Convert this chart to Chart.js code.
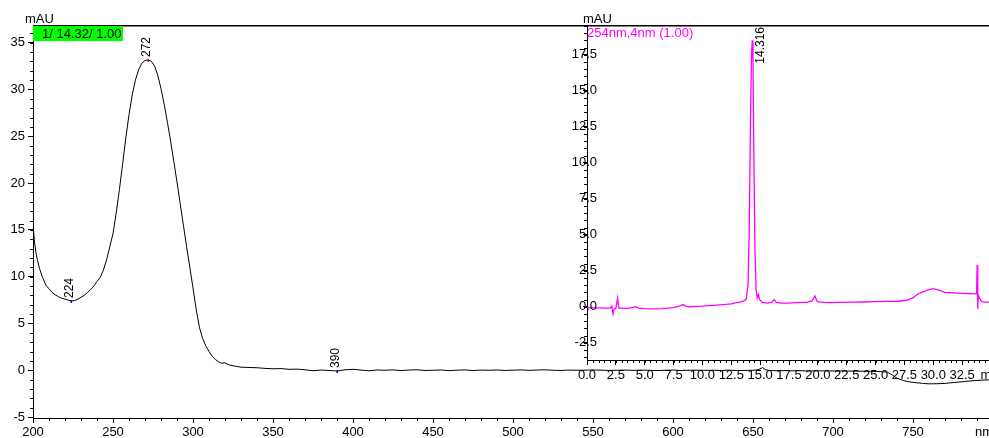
<!DOCTYPE html>
<html>
<head>
<meta charset="utf-8">
<script src="https://cdn.jsdelivr.net/npm/chart.js@4.4.1/dist/chart.umd.min.js"></script>
<style>
  html, body { margin: 0; padding: 0; background: #fff; overflow: hidden; }
  #wrap { position: relative; width: 989px; height: 438px; overflow: hidden; }
  #wrap canvas { position: absolute; left: 0; top: 0; }
</style>
</head>
<body>
<div id="wrap">
  <canvas id="specChart" width="1000" height="438"></canvas>
  <canvas id="lcChart" width="1010" height="438"></canvas>
</div>
<script>
// UV spectrum of the peak (wavelength nm / mAU)
const waveNm = [200, 201, 202, 204, 206, 208, 210, 212, 214, 216, 218, 220, 222, 224, 226, 228, 230, 232, 234, 236, 238, 240, 242, 244, 246, 248, 250, 252, 254, 256, 258, 260, 262, 264, 266, 268, 270, 272, 274, 276, 278, 280, 282, 284, 286, 288, 290, 292, 294, 296, 298, 300, 302, 304, 306, 308, 310, 312, 314, 316, 318, 320, 322, 325, 330, 335, 340, 345, 350, 355, 360, 365, 370, 375, 380, 385, 390, 395, 400, 405, 410, 415, 420, 425, 430, 435, 440, 445, 450, 455, 460, 465, 470, 475, 480, 485, 490, 495, 500, 505, 510, 515, 520, 525, 530, 535, 540, 545, 550, 555, 560, 565, 570, 575, 580, 585, 590, 595, 600, 605, 610, 615, 620, 625, 630, 635, 640, 645, 650, 653, 656, 658, 660, 665, 670, 675, 680, 685, 690, 695, 700, 705, 710, 715, 720, 725, 730, 734, 737, 740, 744, 748, 752, 756, 760, 765, 770, 775, 780, 785, 790, 795, 800];
const absMAU = [15.6, 13.6, 12.4, 10.9, 9.9, 9.1, 8.7, 8.3, 8.05, 7.85, 7.7, 7.6, 7.5, 7.4, 7.45, 7.6, 7.8, 8.0, 8.3, 8.6, 9.0, 9.5, 9.9, 10.7, 11.8, 13.2, 14.6, 16.8, 19.3, 22.0, 24.8, 27.3, 29.4, 31.0, 32.1, 32.8, 33.1, 33.15, 33.0, 32.5, 31.5, 30.1, 28.4, 26.5, 24.5, 22.3, 20.1, 17.8, 15.5, 13.2, 11.0, 8.8, 6.5, 4.6, 3.4, 2.6, 2.0, 1.5, 1.15, 0.9, 0.75, 0.8, 0.6, 0.48, 0.33, 0.3, 0.27, 0.2, 0.16, 0.18, 0.1, 0.12, 0.05, -0.05, 0.02, -0.02, -0.08, 0.05, 0.1, 0.02, -0.06, 0.03, 0.0, 0.04, -0.03, 0.02, 0.05, -0.02, 0.0, 0.03, -0.04, 0.01, 0.04, -0.03, 0.02, 0.0, 0.03, -0.02, 0.01, 0.04, -0.01, 0.02, 0.05, 0.0, -0.02, 0.02, 0.0, 0.01, 0.03, 0.01, -0.02, 0.0, 0.02, -0.01, 0.01, 0.0, -0.03, 0.0, 0.02, -0.02, 0.0, 0.01, -0.01, 0.0, -0.02, 0.01, -0.03, -0.02, 0.0, 0.05, 0.28, 0.05, -0.02, -0.05, -0.04, -0.06, -0.05, -0.08, -0.06, -0.07, -0.08, -0.07, -0.09, -0.1, -0.1, -0.12, -0.15, -0.2, -0.5, -0.85, -1.1, -1.25, -1.33, -1.4, -1.45, -1.44, -1.4, -1.32, -1.24, -1.15, -1.09, -1.04, -1.0];
const specXTicks = [200, 250, 300, 350, 400, 450, 500, 550, 600, 650, 700, 750, 800];
const specYTicks = [-5, 0, 5, 10, 15, 20, 25, 30, 35];
const specPeaks = [224, 272, 390];
const specPeakMarks = ['#0000ff', '#ff0000', '#0000ff'];

// 254 nm chromatogram (min / mAU)
const lcTime = [0, 0.5, 1.0, 1.5, 2.0, 2.15, 2.25, 2.35, 2.5, 2.65, 2.75, 3.0, 3.5, 4.0, 4.2, 4.5, 5.0, 5.5, 6.0, 6.5, 7.0, 7.5, 8.0, 8.3, 8.6, 9.0, 9.5, 10.0, 10.5, 11.0, 11.5, 12.0, 12.5, 13.0, 13.3, 13.6, 13.8, 13.95, 14.05, 14.15, 14.25, 14.316, 14.38, 14.45, 14.55, 14.65, 14.75, 14.85, 14.95, 15.2, 15.6, 16.0, 16.2, 16.4, 16.8, 17.5, 18.0, 18.5, 19.0, 19.5, 19.75, 19.95, 20.5, 21.0, 22.0, 23.0, 24.0, 25.0, 26.0, 27.0, 27.7, 28.3, 28.6, 29.0, 29.5, 30.0, 30.5, 31.0, 31.5, 32.0, 32.5, 33.0, 33.5, 33.75, 33.8, 33.85, 33.9, 34.0, 34.2, 34.5, 35.0];
const lcMAU = [-0.05, -0.07, -0.08, -0.1, -0.1, 0.05, -0.5, -0.15, -0.1, 0.6, -0.1, -0.1, -0.12, -0.05, 0.0, -0.1, -0.13, -0.15, -0.15, -0.13, -0.1, -0.06, 0.05, 0.15, 0.02, 0.0, 0.02, 0.04, 0.07, 0.1, 0.13, 0.16, 0.2, 0.28, 0.33, 0.4, 0.55, 1.5, 5.0, 12.0, 17.5, 18.5, 17.0, 11.0, 4.0, 1.2, 0.6, 0.85, 0.5, 0.3, 0.25, 0.3, 0.5, 0.3, 0.25, 0.25, 0.28, 0.3, 0.3, 0.4, 0.75, 0.35, 0.3, 0.28, 0.3, 0.32, 0.33, 0.35, 0.37, 0.38, 0.45, 0.65, 0.85, 1.0, 1.15, 1.25, 1.15, 1.0, 0.97, 0.95, 0.93, 0.92, 0.9, 0.9, 2.9, -0.15, 0.8, 0.6, 0.35, 0.32, 0.32];
const lcXTicks = [0, 2.5, 5, 7.5, 10, 12.5, 15, 17.5, 20, 22.5, 25, 27.5, 30, 32.5, 35];
const lcYTicks = [-2.5, 0, 2.5, 5, 7.5, 10, 12.5, 15, 17.5];
const lcPeaks = [14.316];

const FONT = '"Liberation Sans", Arial, sans-serif';
Chart.defaults.font.family = FONT;
Chart.defaults.font.size = 13;
Chart.defaults.color = '#000';

// short unlabeled ticks between the major ones
function drawMinorTicks(chart, id, step, len) {
  const s = chart.scales[id];
  const ctx = chart.ctx;
  ctx.save();
  ctx.strokeStyle = '#000';
  ctx.lineWidth = 1;
  ctx.beginPath();
  const first = Math.ceil(s.min / step);
  const last = Math.floor(s.max / step);
  for (let i = first; i <= last; i++) {
    const v = i * step;
    if (s.isHorizontal()) {
      const px = Math.round(s.getPixelForValue(v)) + 0.5;
      ctx.moveTo(px, s.top);
      ctx.lineTo(px, s.top + len);
    } else {
      const py = Math.round(s.getPixelForValue(v)) + 0.5;
      ctx.moveTo(s.right - len, py);
      ctx.lineTo(s.right, py);
    }
  }
  ctx.stroke();
  ctx.restore();
}

function rotatedText(ctx, text, x, y, align) {
  ctx.save();
  ctx.translate(x, y);
  ctx.rotate(-Math.PI / 2);
  ctx.textAlign = align;
  ctx.textBaseline = 'alphabetic';
  ctx.fillText(text, 0, 0);
  ctx.restore();
}

const specDecor = {
  id: 'specDecor',
  afterDraw(chart) {
    const { ctx, chartArea, scales: { x, y } } = chart;
    drawMinorTicks(chart, 'x', 10, 3);
    drawMinorTicks(chart, 'y', 1, 3);

    // frame line along the top
    ctx.save();
    ctx.strokeStyle = '#000';
    ctx.lineWidth = 1.5;
    ctx.beginPath();
    ctx.moveTo(chartArea.left, chartArea.top - 0.25);
    ctx.lineTo(chart.width, chartArea.top - 0.25);
    ctx.stroke();

    ctx.font = '13px ' + FONT;
    ctx.fillStyle = '#000';
    ctx.textBaseline = 'middle';
    ctx.textAlign = 'left';
    ctx.fillText('mAU', 25, 19.5);
    ctx.textAlign = 'right';
    ctx.fillText('nm', x.getPixelForValue(800), 432);

    // peak info box
    ctx.fillStyle = '#00ff00';
    ctx.fillRect(chartArea.left, chartArea.top, 90, 15);
    ctx.fillStyle = '#000';
    ctx.textAlign = 'left';
    ctx.fillText('1/ 14.32/ 1.00', 42, chartArea.top + 8);

    // picked wavelengths
    ctx.font = '12px ' + FONT;
    specPeaks.forEach((nm, i) => {
      const v = absMAU[waveNm.indexOf(nm)];
      const px = x.getPixelForValue(nm);
      const py = y.getPixelForValue(v);
      ctx.fillStyle = specPeakMarks[i];
      ctx.fillRect(Math.round(px) - 0.5, Math.round(py) - 1, 1.5, 3);
      ctx.fillStyle = '#000';
      rotatedText(ctx, String(nm), px + 2, py - 3, 'left');
    });
    ctx.restore();
  }
};

const lcDecor = {
  id: 'lcDecor',
  afterDraw(chart) {
    const { ctx, chartArea, scales: { x, y } } = chart;
    drawMinorTicks(chart, 'x', 0.5, 3);
    drawMinorTicks(chart, 'y', 0.5, 3);

    ctx.save();
    ctx.font = '13px ' + FONT;
    ctx.textBaseline = 'middle';
    ctx.fillStyle = '#000';

    // y labels sit across the axis line, right edge past it
    ctx.textAlign = 'right';
    lcYTicks.forEach(v => {
      ctx.fillText(v.toFixed(1), y.right + 10, y.getPixelForValue(v));
    });

    ctx.textAlign = 'left';
    ctx.fillText('mAU', chartArea.left - 4, 19.5);
    ctx.fillStyle = '#ff00ff';
    ctx.fillText('254nm,4nm (1.00)', chartArea.left, chartArea.top + 7);

    ctx.font = '12px ' + FONT;
    ctx.fillStyle = '#000';
    lcPeaks.forEach(t => {
      const px = x.getPixelForValue(t);
      rotatedText(ctx, t.toFixed(3), px + 12, chartArea.top + 1, 'right');
    });
    ctx.restore();
  }
};

new Chart(document.getElementById('specChart'), {
  type: 'line',
  data: {
    datasets: [{
      data: waveNm.map((w, i) => ({ x: w, y: absMAU[i] })),
      borderColor: '#000',
      borderWidth: 1,
      pointRadius: 0,
      tension: 0
    }]
  },
  options: {
    responsive: false,
    animation: false,
    devicePixelRatio: 1,
    layout: { padding: { top: 26, right: 7, left: 0, bottom: 0 } },
    plugins: { legend: { display: false }, tooltip: { enabled: false } },
    scales: {
      x: {
        type: 'linear',
        min: 200,
        max: 800,
        afterFit: s => { s.height = 20; },
        afterBuildTicks: s => { s.ticks = specXTicks.map(v => ({ value: v })); },
        ticks: { autoSkip: false, maxRotation: 0, padding: 2, callback: v => (v === 800 ? '' : v) },
        grid: { drawOnChartArea: false, tickLength: 5, color: '#000' },
        border: { color: '#000' }
      },
      y: {
        type: 'linear',
        min: -5.1,
        max: 36.78,
        afterFit: s => { s.width = 33; },
        afterBuildTicks: s => { s.ticks = specYTicks.map(v => ({ value: v })); },
        ticks: { autoSkip: false, padding: 3 },
        grid: { drawOnChartArea: false, tickLength: 5, color: '#000' },
        border: { color: '#000' }
      }
    }
  },
  plugins: [specDecor]
});

new Chart(document.getElementById('lcChart'), {
  type: 'line',
  data: {
    datasets: [{
      data: lcTime.map((t, i) => ({ x: t, y: lcMAU[i] })),
      borderColor: '#ff00ff',
      borderWidth: 1.3,
      pointRadius: 0,
      tension: 0
    }]
  },
  options: {
    responsive: false,
    animation: false,
    devicePixelRatio: 1,
    layout: { padding: { top: 26, right: 19, left: 547, bottom: 48 } },
    plugins: { legend: { display: false }, tooltip: { enabled: false } },
    scales: {
      x: {
        type: 'linear',
        min: 0,
        max: 35,
        afterFit: s => { s.height = 30; },
        afterBuildTicks: s => { s.ticks = lcXTicks.map(v => ({ value: v })); },
        ticks: { autoSkip: false, maxRotation: 0, padding: 3, callback: v => (v === 35 ? 'min' : v.toFixed(1)) },
        grid: { drawOnChartArea: false, tickLength: 5, color: '#000' },
        border: { color: '#000' }
      },
      y: {
        type: 'linear',
        min: -3.7,
        max: 19.5,
        afterFit: s => { s.width = 40; },
        afterBuildTicks: s => { s.ticks = lcYTicks.map(v => ({ value: v })); },
        ticks: { display: false },
        grid: { drawOnChartArea: false, tickLength: 4, color: '#000' },
        border: { color: '#000' }
      }
    }
  },
  plugins: [lcDecor]
});
</script>
</body>
</html>
